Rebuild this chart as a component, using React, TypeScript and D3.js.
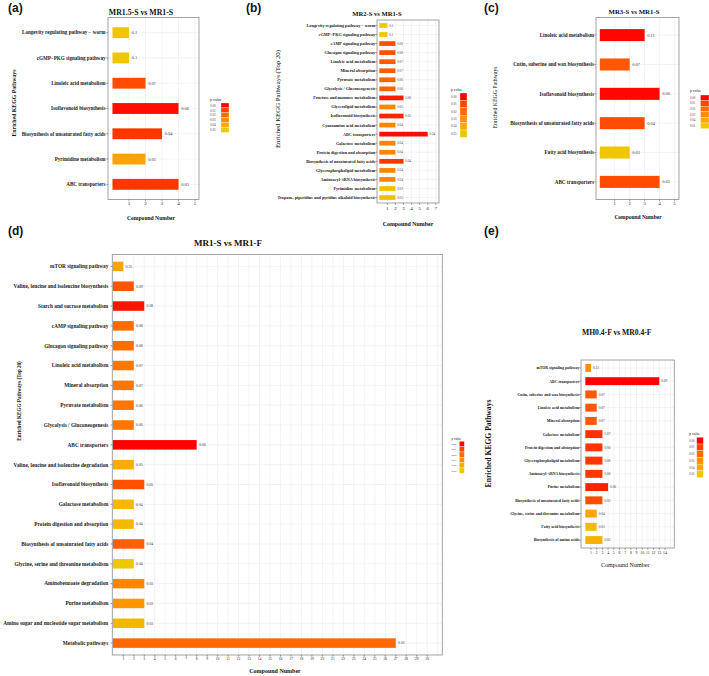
import React from "react";
import * as d3 from "d3";

// ---------- data ----------
const legendLabels = ["0.00", "0.01", "0.02", "0.03", "0.04", "0.05"];
const legendValues = [0, 0.01, 0.02, 0.03, 0.04, 0.05];

const aCategories = [
  "Longevity regulating pathway − worm",
  "cGMP−PKG signaling pathway",
  "Linoleic acid metabolism",
  "Isoflavonoid biosynthesis",
  "Biosynthesis of unsaturated fatty acids",
  "Pyrimidine metabolism",
  "ABC transporters",
];
const aCounts = [1, 1, 2, 4, 3, 2, 4];
const aRatios = ["0.1", "0.1", "0.07", "0.06", "0.04", "0.03", "0.03"];
const aPValues = [0.05, 0.05, 0.012, 0.002, 0.008, 0.038, 0.008];
const aTicks = [1, 2, 3, 4, 5];

const bCategories = [
  "Longevity regulating pathway − worm",
  "cGMP−PKG signaling pathway",
  "cAMP signaling pathway",
  "Glucagon signaling pathway",
  "Linoleic acid metabolism",
  "Mineral absorption",
  "Pyruvate metabolism",
  "Glycolysis / Gluconeogenesis",
  "Fructose and mannose metabolism",
  "Glycerolipid metabolism",
  "Isoflavonoid biosynthesis",
  "Cyanoamino acid metabolism",
  "ABC transporters",
  "Galactose metabolism",
  "Protein digestion and absorption",
  "Biosynthesis of unsaturated fatty acids",
  "Glycerophospholipid metabolism",
  "Aminoacyl−tRNA biosynthesis",
  "Pyrimidine metabolism",
  "Tropane, piperidine and pyridine alkaloid biosynthesis",
];
const bCounts = [1, 1, 2, 2, 2, 2, 2, 2, 3, 2, 3, 2, 6, 2, 2, 3, 2, 2, 2, 2];
const bRatios = ["0.1", "0.1", "0.08", "0.08", "0.07", "0.07", "0.06", "0.06", "0.06", "0.05", "0.05", "0.04", "0.04", "0.04", "0.04", "0.04", "0.04", "0.04", "0.03", "0.03"];
const bPValues = [0.05, 0.05, 0.013, 0.013, 0.016, 0.016, 0.018, 0.018, 0.004, 0.027, 0.005, 0.027, 0.002, 0.027, 0.027, 0.008, 0.027, 0.027, 0.048, 0.048];
const bTicks = [1, 2, 3, 4, 5, 6, 7];

const cCategories = [
  "Linoleic acid metabolism",
  "Cutin, suberine and wax biosynthesis",
  "Isoflavonoid biosynthesis",
  "Biosynthesis of unsaturated fatty acids",
  "Fatty acid biosynthesis",
  "ABC transporters",
];
const cCounts = [3, 2, 4, 3, 2, 4];
const cRatios = ["0.11", "0.07", "0.06", "0.04", "0.03", "0.03"];
const cPValues = [0.001, 0.015, 0.001, 0.012, 0.05, 0.012];
const cTicks = [1, 2, 3, 4, 5];

const dCategories = [
  "mTOR signaling pathway",
  "Valine, leucine and isoleucine biosynthesis",
  "Starch and sucrose metabolism",
  "cAMP signaling pathway",
  "Glucagon signaling pathway",
  "Linoleic acid metabolism",
  "Mineral absorption",
  "Pyruvate metabolism",
  "Glycolysis / Gluconeogenesis",
  "ABC transporters",
  "Valine, leucine and isoleucine degradation",
  "Isoflavonoid biosynthesis",
  "Galactose metabolism",
  "Protein digestion and absorption",
  "Biosynthesis of unsaturated fatty acids",
  "Glycine, serine and threonine metabolism",
  "Aminobenzoate degradation",
  "Purine metabolism",
  "Amino sugar and nucleotide sugar metabolism",
  "Metabolic pathways",
];
const dCounts = [1, 2, 3, 2, 2, 2, 2, 2, 2, 8, 2, 3, 2, 2, 3, 2, 3, 3, 3, 27];
const dRatios = ["0.25", "0.09", "0.08", "0.08", "0.08", "0.07", "0.07", "0.06", "0.06", "0.06", "0.05", "0.05", "0.04", "0.04", "0.04", "0.04", "0.03", "0.03", "0.03", "0.03"];
const dPValues = [0.038, 0.014, 0.003, 0.02, 0.02, 0.023, 0.023, 0.023, 0.023, 0.0, 0.041, 0.013, 0.045, 0.045, 0.017, 0.05, 0.028, 0.033, 0.044, 0.019];
const dTicks = d3.range(1, 31);

const eCategories = [
  "mTOR signaling pathway",
  "ABC transporters",
  "Cutin, suberine and wax biosynthesis",
  "Linoleic acid metabolism",
  "Mineral absorption",
  "Galactose metabolism",
  "Protein digestion and absorption",
  "Glycerophospholipid metabolism",
  "Aminoacyl−tRNA biosynthesis",
  "Purine metabolism",
  "Biosynthesis of unsaturated fatty acids",
  "Glycine, serine and threonine metabolism",
  "Fatty acid biosynthesis",
  "Biosynthesis of amino acids",
];
const eCounts = [1, 13, 2, 2, 2, 3, 3, 3, 3, 4, 3, 2, 2, 3];
const eRatios = ["0.21", "0.09", "0.07", "0.07", "0.07", "0.07", "0.06", "0.06", "0.06", "0.06", "0.05", "0.04", "0.03", "0.02"];
const ePValues = [0.03, 0.0, 0.015, 0.015, 0.015, 0.007, 0.008, 0.008, 0.008, 0.005, 0.012, 0.039, 0.046, 0.043];
const eTicks = d3.range(1, 15);

// ---------- styles ----------
const SERIF = '"Liberation Serif","Times New Roman",serif';
const SANS = '"Liberation Sans",Arial,sans-serif';
const color = d3
  .scaleLinear<string>()
  .domain(legendValues)
  .range(["#FF0000", "#FF4400", "#FF6C00", "#FF8E00", "#F8AA00", "#F0C600"])
  .clamp(true);

type Leg = { x: number; titleY: number; keyX: number; keyW: number; keyTop: number; keyH: number; size: number; titleSize: number };
type P = {
  cats: string[]; counts: number[]; ratios: string[]; pvals: number[]; ticks: number[];
  left: number; right: number; top: number; bottom: number; xMin: number; xMax: number;
  barFrac: number; catSize: number; catGap: number; valSize: number; tickSize: number; tickY: number;
  title: string; titleX: number; titleY: number; titleSize: number;
  letter: string; letterX: number; letterY: number;
  xtX: number; xtY: number; xtSize: number; xtWeight: string;
  ytText: string; ytX: number; ytY: number; ytSize: number; ytWeight: string;
  leg: Leg;
};

function Panel(p: P) {
  const x = d3.scaleLinear().domain([p.xMin, p.xMax]).range([p.left, p.right]);
  const y = d3.scalePoint<string>().domain(p.cats).range([p.top, p.bottom]).padding(0.6);
  const bh = y.step() * p.barFrac;
  const gridX = d3.range(1, Math.floor(p.xMax) + 1);
  return (
    <g>
      {gridX.map((t) => (
        <line key={"gx" + t} x1={x(t)} x2={x(t)} y1={p.top} y2={p.bottom} stroke="#EBEBEB" strokeWidth={0.6} />
      ))}
      {p.cats.map((c) => (
        <line key={"gy" + c} x1={p.left} x2={p.right} y1={y(c)} y2={y(c)} stroke="#EBEBEB" strokeWidth={0.6} />
      ))}
      {p.cats.map((c, i) => (
        <rect key={"b" + c} x={x(0)} y={(y(c) as number) - bh / 2} width={x(p.counts[i]) - x(0)} height={bh} fill={color(p.pvals[i])} />
      ))}
      {p.cats.map((c, i) => (
        <text key={"v" + c} x={x(p.counts[i]) + p.valSize * 0.6} y={y(c)} dy="0.35em" fontSize={p.valSize} fontFamily={SERIF} fill="#444">
          {p.ratios[i]}
        </text>
      ))}
      <rect x={p.left} y={p.top} width={p.right - p.left} height={p.bottom - p.top} fill="none" stroke="#9A9A9A" strokeWidth={0.9} />
      {p.cats.map((c) => (
        <line key={"yt" + c} x1={p.left - 1.8} x2={p.left} y1={y(c)} y2={y(c)} stroke="#444" strokeWidth={0.5} />
      ))}
      {p.ticks.map((t) => (
        <line key={"xt" + t} x1={x(t)} x2={x(t)} y1={p.bottom} y2={p.bottom + 1.8} stroke="#444" strokeWidth={0.5} />
      ))}
      {p.ticks.map((t) => (
        <text key={"xl" + t} x={x(t)} y={p.tickY} dy="0.35em" textAnchor="middle" fontSize={p.tickSize} fontFamily={SERIF} fill="#222">
          {t}
        </text>
      ))}
      {p.cats.map((c) => (
        <text key={"cl" + c} x={p.left - p.catGap} y={y(c)} dy="0.35em" textAnchor="end" fontSize={p.catSize} fontWeight="bold" fontFamily={SERIF} fill="#1a1a1a">
          {c}
        </text>
      ))}
      <text x={p.titleX} y={p.titleY} dy="0.35em" textAnchor="middle" fontSize={p.titleSize} fontWeight="bold" fontFamily={SERIF} fill="#111">
        {p.title}
      </text>
      <text x={p.letterX} y={p.letterY} dy="0.35em" fontSize={12} fontWeight="bold" fontFamily={SANS} fill="#111">
        {p.letter}
      </text>
      <text x={p.xtX} y={p.xtY} dy="0.35em" textAnchor="middle" fontSize={p.xtSize} fontWeight={p.xtWeight} fontFamily={SERIF} fill="#111">
        Compound Number
      </text>
      <text transform={`translate(${p.ytX},${p.ytY}) rotate(-90)`} dy="0.35em" textAnchor="middle" fontSize={p.ytSize} fontWeight={p.ytWeight} fontFamily={SERIF} fill="#111">
        {p.ytText}
      </text>
      <text x={p.leg.x} y={p.leg.titleY} fontSize={p.leg.titleSize} fontFamily={SERIF} fill="#222">
        p value
      </text>
      {legendValues.map((v, i) => (
        <g key={"lg" + i}>
          <rect x={p.leg.keyX} y={p.leg.keyTop + i * p.leg.keyH} width={p.leg.keyW} height={p.leg.keyH} fill={color(v)} stroke="#fff" strokeWidth={0.3} />
          <text x={p.leg.x} y={p.leg.keyTop + (i + 0.5) * p.leg.keyH} dy="0.35em" fontSize={p.leg.size} fontFamily={SERIF} fill="#444">
            {legendLabels[i]}
          </text>
        </g>
      ))}
    </g>
  );
}

export default function App() {
  return (
    <svg width={709} height={676} style={{ position: "absolute", left: 0, top: 0, background: "#fff" }}>
      <rect x={0} y={0} width={709} height={676} fill="#fff" />
      <Panel
        cats={aCategories} counts={aCounts} ratios={aRatios} pvals={aPValues} ticks={aTicks}
        left={108} right={199} top={17.5} bottom={199.5} xMin={-0.27} xMax={5.24}
        barFrac={0.43} catSize={5.1} catGap={2.5} valSize={4.4} tickSize={5} tickY={203}
        title="MR1.5-S vs MR1-S" titleX={141} titleY={12} titleSize={7.8}
        letter="(a)" letterX={8} letterY={8}
        xtX={151} xtY={218} xtSize={5.6} xtWeight="bold"
        ytText="Enriched KEGG Pathways" ytX={13.5} ytY={103} ytSize={5.8} ytWeight="bold"
        leg={{ x: 210, titleY: 101, keyX: 221, keyW: 8, keyTop: 103, keyH: 4.9, size: 3.3, titleSize: 4 }}
      />
      <Panel
        cats={bCategories} counts={bCounts} ratios={bRatios} pvals={bPValues} ticks={bTicks}
        left={377} right={439} top={20} bottom={203} xMin={-0.285} xMax={7.4}
        barFrac={0.52} catSize={4.2} catGap={1.8} valSize={3.1} tickSize={5} tickY={208.5}
        title="MR2-S vs MR1-S" titleX={377} titleY={14} titleSize={6.6}
        letter="(b)" letterX={246} letterY={8}
        xtX={408} xtY={224} xtSize={5.9} xtWeight="bold"
        ytText="Enriched KEGG Pathways (Top 20)" ytX={278} ytY={99} ytSize={6.8} ytWeight="normal"
        leg={{ x: 451, titleY: 91, keyX: 460, keyW: 7, keyTop: 93, keyH: 7.4, size: 3.2, titleSize: 3.8 }}
      />
      <Panel
        cats={cCategories} counts={cCounts} ratios={cRatios} pvals={cPValues} ticks={cTicks}
        left={596} right={679} top={17.5} bottom={199.5} xMin={-0.255} xMax={5.3}
        barFrac={0.41} catSize={5.1} catGap={2} valSize={4.4} tickSize={4.6} tickY={203}
        title="MR3-S vs MR1-S" titleX={634} titleY={12} titleSize={6.8}
        letter="(c)" letterX={484} letterY={8}
        xtX={638} xtY={217} xtSize={5.5} xtWeight="bold"
        ytText="Enriched KEGG Pathways" ytX={495} ytY={97.5} ytSize={5.8} ytWeight="normal"
        leg={{ x: 690, titleY: 92, keyX: 700.5, keyW: 8.5, keyTop: 95, keyH: 5.6, size: 3, titleSize: 3.8 }}
      />
      <Panel
        cats={dCategories} counts={dCounts} ratios={dRatios} pvals={dPValues} ticks={dTicks}
        left={112.3} right={442.3} top={254.5} bottom={655} xMin={-0.05} xMax={31.44}
        barFrac={0.48} catSize={5.3} catGap={4} valSize={3.8} tickSize={3.6} tickY={658.7}
        title="MR1-S vs MR1-F" titleX={228} titleY={243} titleSize={9}
        letter="(d)" letterX={8} letterY={231}
        xtX={275} xtY={671} xtSize={6} xtWeight="bold"
        ytText="Enriched KEGG Pathways (Top 20)" ytX={19} ytY={401} ytSize={5.2} ytWeight="bold"
        leg={{ x: 451.5, titleY: 439.5, keyX: 459.3, keyW: 5, keyTop: 441.3, keyH: 5.33, size: 2.8, titleSize: 3.3 }}
      />
      <Panel
        cats={eCategories} counts={eCounts} ratios={eRatios} pvals={ePValues} ticks={eTicks}
        left={581} right={674.3} top={360} bottom={548} xMin={-0.76} xMax={15.64}
        barFrac={0.6} catSize={3.9} catGap={1.8} valSize={3.4} tickSize={3.8} tickY={552.3}
        title="MH0.4-F vs MR0.4-F" titleX={616.7} titleY={332.7} titleSize={7.6}
        letter="(e)" letterX={484} letterY={231}
        xtX={625.3} xtY={565.3} xtSize={6.1} xtWeight="normal"
        ytText="Enriched KEGG Pathways" ytX={488.3} ytY={443.5} ytSize={7.6} ytWeight="bold"
        leg={{ x: 689.3, titleY: 434.5, keyX: 696.7, keyW: 6.6, keyTop: 437.3, keyH: 6.7, size: 3, titleSize: 3.6 }}
      />
    </svg>
  );
}
